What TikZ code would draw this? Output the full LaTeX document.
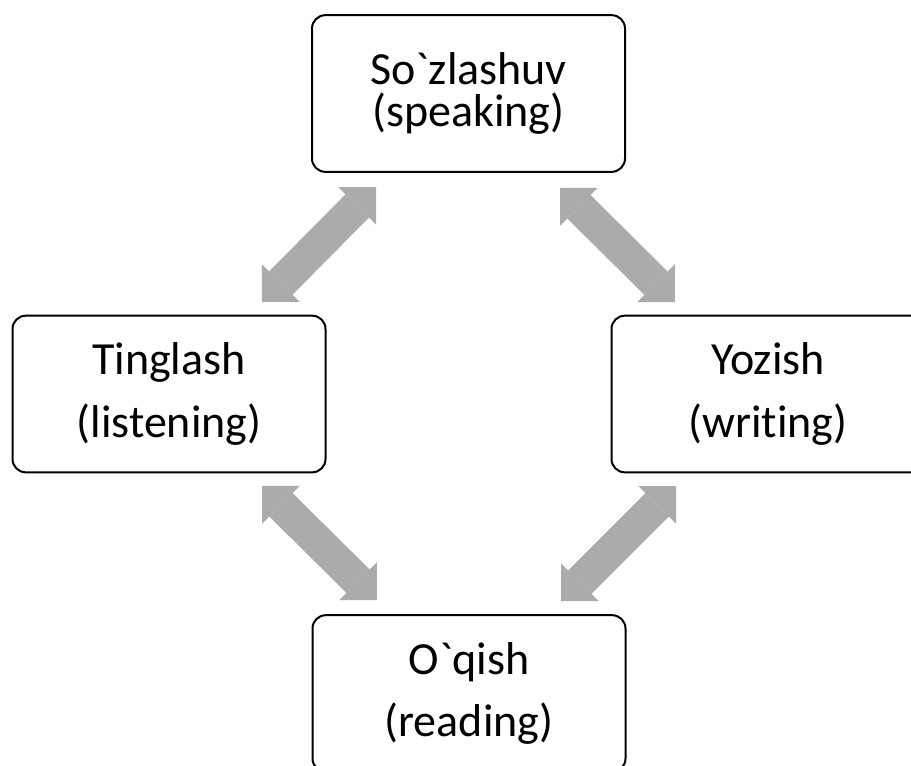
\documentclass[tikz,border=0pt]{standalone}
\usepackage{fontspec}
\setmainfont{Carlito}[Ligatures={TeX,NoCommon}]
\usetikzlibrary{arrows.meta}

\definecolor{arrowgray}{RGB}{171,171,171}

\tikzset{
  skill/.style={draw, line width=1.5pt, rounded corners=10pt,
    minimum width=234.75pt, minimum height=117.5pt, align=center,
    inner sep=0pt, font=\fontsize{34.5}{47}\selectfont},
  tight/.style={font=\fontsize{34.5}{31.5}\selectfont},
  bighead/.tip={Triangle[width=40pt, length=20pt, line width=0pt]},
  twoway/.style={draw=arrowgray, line width=24.75pt, bighead-bighead}
}

\begin{document}
\begin{tikzpicture}[x=0.75pt, y=-0.75pt]

\clip (0,0) rectangle (911,765);
\useasboundingbox (0,0) rectangle (911,765);

% the four skills
\node[skill, tight] (speak) at (468.5, 93.5) {So\textasciigrave zlashuv\\(speaking)};
\node[skill] (listen) at (169, 394) {Tinglash\\(listening)};
\node[skill] (write) at (768, 394) {Yozish\\(writing)};
\node[skill] (read) at (469, 693.5) {O\textasciigrave qish\\(reading)};

% arrow ends
\coordinate (speak-l) at (376, 187);
\coordinate (listen-t) at (262, 302);
\coordinate (speak-r) at (560, 188);
\coordinate (write-t) at (675, 302);
\coordinate (write-b) at (676, 486);
\coordinate (read-r) at (561, 601);
\coordinate (listen-b) at (262, 486);
\coordinate (read-l) at (377, 600);

\draw[twoway] (speak-l) -- (listen-t);
\draw[twoway] (speak-r) -- (write-t);
\draw[twoway] (write-b) -- (read-r);
\draw[twoway] (listen-b) -- (read-l);

\end{tikzpicture}
\end{document}
